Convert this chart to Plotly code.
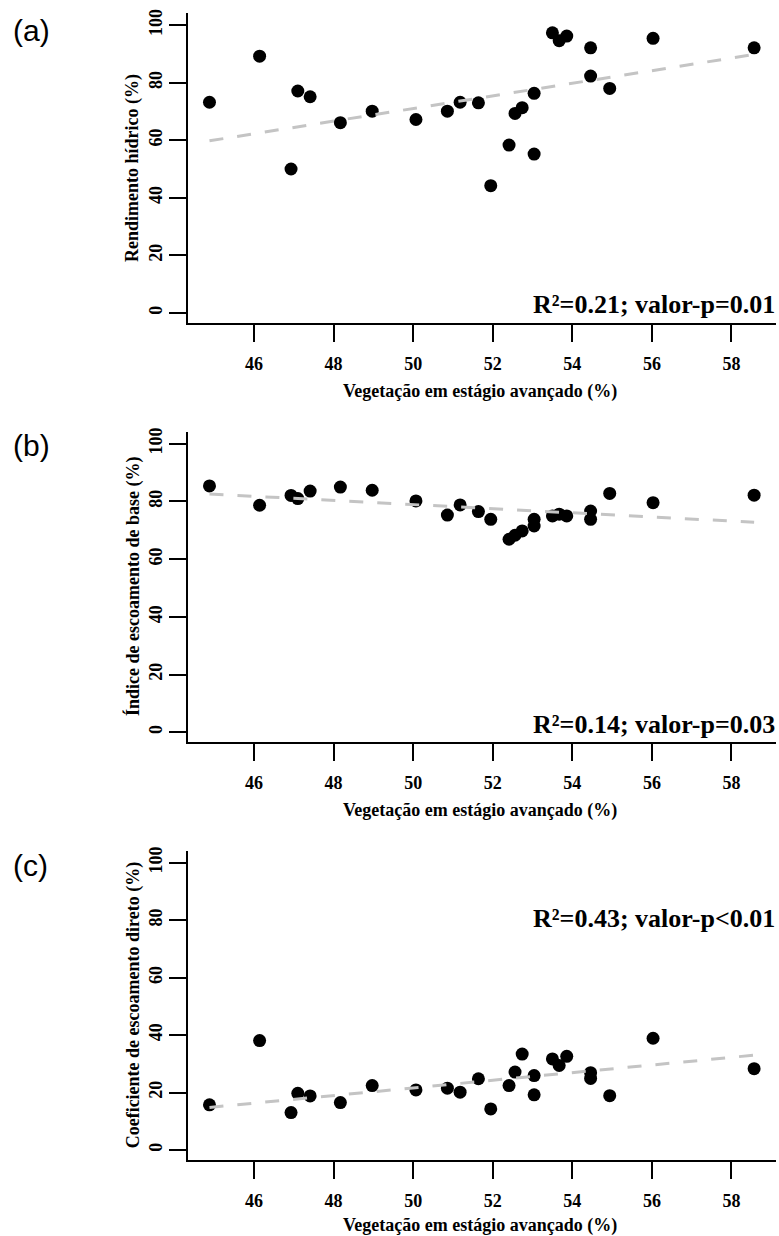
import numpy as np
import plotly.graph_objects as go

# Vegetação em estágio avançado (%)
veg = [44.88, 46.14, 46.93, 47.10, 47.41, 48.17, 48.97, 50.07, 50.86, 51.18,
       51.64, 51.95, 52.41, 52.56, 52.74, 53.04, 53.04, 53.50, 53.67, 53.86,
       54.46, 54.46, 54.94, 56.03, 58.57]
# (a) Rendimento hídrico (%)
rendimento = [73.2, 89.2, 50.0, 77.1, 75.1, 66.1, 70.1, 67.2, 70.1, 73.2,
              73.0, 44.2, 58.3, 69.3, 71.3, 76.3, 55.2, 97.3, 94.6, 96.2,
              92.1, 82.3, 78.0, 95.4, 92.1]
# (b) Índice de escoamento de base (%)
indice_base = [85.4, 78.7, 82.1, 81.0, 83.6, 85.0, 83.9, 80.2, 75.3, 78.8,
               76.5, 73.8, 66.9, 68.3, 69.8, 71.5, 73.8, 75.0, 75.6, 75.0,
               76.7, 73.8, 82.8, 79.6, 82.2]
# (c) Coeficiente de escoamento direto (%)
coef_direto = [15.7, 38.1, 13.0, 19.7, 18.8, 16.5, 22.4, 20.9, 21.5, 20.1,
               24.8, 14.3, 22.4, 27.1, 33.4, 25.9, 19.2, 31.7, 29.4, 32.6,
               26.9, 24.9, 18.9, 38.9, 28.3]

# fitted trend lines: value at min(veg) and at max(veg)
trend_a = [59.8, 89.8]
trend_b = [82.6, 72.8]
trend_c = [14.8, 33.0]

panel_labels = ["(a)", "(b)", "(c)"]
y_titles = ["Rendimento hídrico (%)", "Índice de escoamento de base (%)",
            "Coeficiente de escoamento direto (%)"]
stats_text = ["R²=0.21; valor-p=0.01", "R²=0.14; valor-p=0.03",
              "R²=0.43; valor-p<0.01"]
x_title = "Vegetação em estágio avançado (%)"
x_ticks = [46, 48, 50, 52, 54, 56, 58]
y_ticks = [0, 20, 40, 60, 80, 100]

series = [rendimento, indice_base, coef_direto]
trends = [trend_a, trend_b, trend_c]

W, H = 779, 1236
L, R, T, B = 188, 3, 13, 76
PW, PH = W - L - R, H - T - B


def py(p):  # pixel y -> paper y
    return (H - B - p) / PH


def px(p):  # pixel x -> paper x
    return (p - L) / PW


domains = [(py(323), py(13)), (py(742.3), py(431.7)), (py(1160), py(850.7))]
xtitle_y = [392, 810, 1225]
label_y = [30, 445, 865]
stats_y = [304, 724, 918]

SERIF = "Liberation Serif"
fig = go.Figure()
for i, ys in enumerate(series):
    xa = "x" if i == 0 else f"x{i+1}"
    ya = "y" if i == 0 else f"y{i+1}"
    fig.add_trace(go.Scatter(x=veg, y=ys, mode="markers", xaxis=xa, yaxis=ya,
                             marker=dict(color="black", size=13, line=dict(width=0)),
                             showlegend=False))
    fig.add_trace(go.Scatter(x=[min(veg), max(veg)], y=trends[i], mode="lines",
                             xaxis=xa, yaxis=ya,
                             line=dict(color="#c4c4c4", width=3, dash="14px,14px"),
                             showlegend=False))
    ax = dict(range=[44.34, 59.12], tickvals=x_ticks, ticks="outside", ticklen=17,
              tickwidth=2, tickcolor="black", showline=True, linewidth=2, linecolor="black",
              showgrid=False, zeroline=False, ticklabelstandoff=6,
              tickfont=dict(family=SERIF, size=18, color="black", weight="bold"),
              anchor=ya)
    ay = dict(range=[-3.5, 104.2], tickvals=y_ticks, ticks="outside", ticklen=17,
              tickwidth=2, tickcolor="black", showline=True, linewidth=2, linecolor="black",
              showgrid=False, zeroline=False, tickangle=-90,
              tickfont=dict(family=SERIF, size=18, color="black", weight="bold"),
              domain=list(domains[i]), anchor=xa)
    key = "" if i == 0 else str(i + 1)
    fig.update_layout(**{f"xaxis{key}": ax, f"yaxis{key}": ay})

    fig.add_annotation(xref="paper", yref="paper", x=px(480), y=py(xtitle_y[i]),
                       text=x_title, showarrow=False, xanchor="center", yanchor="middle",
                       font=dict(family=SERIF, size=18, color="black", weight="bold"))
    ymid = (domains[i][0] + domains[i][1]) / 2
    fig.add_annotation(xref="paper", yref="paper", x=px(133), y=ymid,
                       text=y_titles[i], showarrow=False, textangle=-90,
                       xanchor="center", yanchor="middle",
                       font=dict(family=SERIF, size=18, color="black", weight="bold"))
    fig.add_annotation(xref="paper", yref="paper", x=px(11), y=py(label_y[i]),
                       text=panel_labels[i], showarrow=False, xanchor="left", yanchor="middle",
                       font=dict(family="Liberation Sans", size=30, color="black"))
    fig.add_annotation(xref="paper", yref="paper", x=px(777), y=py(stats_y[i]),
                       text=stats_text[i], showarrow=False, xanchor="right", yanchor="middle",
                       font=dict(family=SERIF, size=26, color="black", weight="bold"))

fig.update_layout(width=W, height=H, margin=dict(l=L, r=R, t=T, b=B),
                  paper_bgcolor="white", plot_bgcolor="white")
fig.write_html("out.html")
